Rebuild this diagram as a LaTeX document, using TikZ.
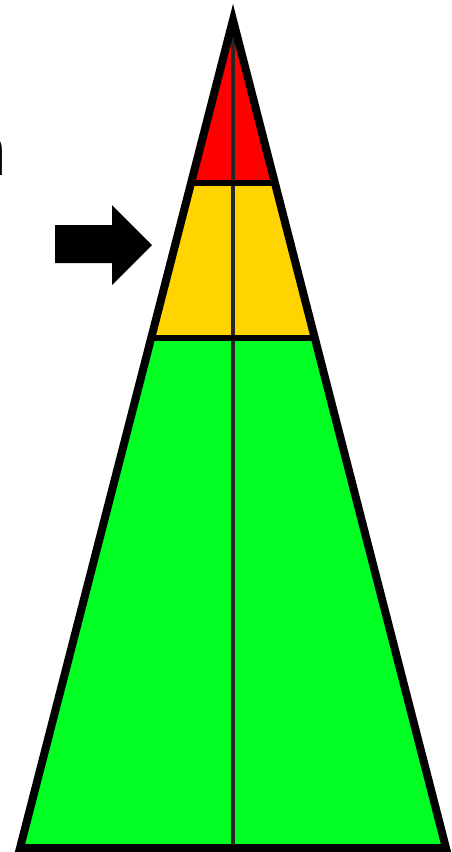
\documentclass[tikz,border=0pt]{standalone}
\usepackage{fontspec}
\setmainfont{Liberation Sans}
\definecolor{zred}{RGB}{255,0,0}
\definecolor{zyellow}{RGB}{255,212,0}
\definecolor{zgreen}{RGB}{0,255,34}
\begin{document}
\begin{tikzpicture}[x=1pt,y=-1pt,
  outline/.style={draw=black,line width=8pt,line join=miter,miter limit=20},
  divider/.style={draw=black,line width=6pt},
  midline/.style={draw=black!85,line width=4.5pt}]
\useasboundingbox (0,0) rectangle (451,852);
\coordinate (apex) at (233,20);
\coordinate (bl) at (20,848);
\coordinate (br) at (446,848);
\coordinate (l1) at (191.1,183);
\coordinate (r1) at (274.9,183);
\coordinate (l2) at (151.2,338);
\coordinate (r2) at (314.8,338);
\coordinate (mb) at (233,848);
% fills
\fill[zred] (apex) -- (r1) -- (l1) -- cycle;
\fill[zyellow] (l1) -- (r1) -- (r2) -- (l2) -- cycle;
\fill[zgreen] (l2) -- (r2) -- (br) -- (bl) -- cycle;
% inner lines
\draw[midline] (apex) -- (mb);
\draw[divider] (l1) -- (r1);
\draw[divider] (l2) -- (r2);
% outline
\draw[outline] (apex) -- (br) -- (bl) -- cycle;
% arrow
\fill[black] (55,225) -- (112,225) -- (112,205) -- (152,245) -- (112,285) -- (112,263) -- (55,263) -- cycle;
% clipped text
\node[anchor=base east,inner sep=0pt,font=\fontsize{71}{80}\selectfont] (txt) at (7,175) {n};
\end{tikzpicture}
\end{document}
